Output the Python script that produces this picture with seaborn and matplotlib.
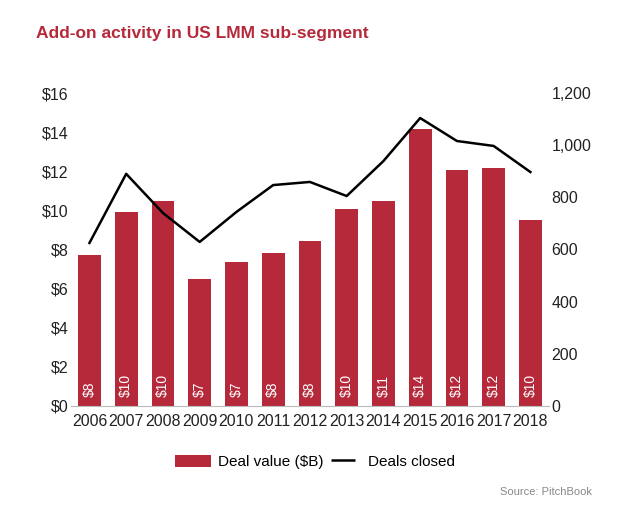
import pandas as pd
import seaborn as sns
import matplotlib.pyplot as plt
from matplotlib.patches import Patch
from matplotlib.lines import Line2D

years = ['2006', '2007', '2008', '2009', '2010', '2011', '2012',
         '2013', '2014', '2015', '2016', '2017', '2018']
deal_value = [7.7, 9.9, 10.5, 6.5, 7.35, 7.8, 8.45, 10.05, 10.5, 14.15, 12.05, 12.15, 9.5]
bar_labels = ['$8', '$10', '$10', '$7', '$7', '$8', '$8', '$10', '$11', '$14', '$12', '$12', '$10']
deals_closed = [625, 890, 740, 629, 744, 847, 859, 805, 939, 1104, 1016, 997, 897]

df = pd.DataFrame({'year': years, 'value': deal_value, 'deals': deals_closed})

red = '#B5293A'
plt.rcParams['font.family'] = ['Liberation Sans', 'DejaVu Sans']

fig = plt.figure(figsize=(6.18, 5.11), dpi=100)
ax = fig.add_axes([0.115, 0.2055, 0.773, 0.6125])

sns.barplot(x='year', y='value', data=df, color=red, width=0.62, saturation=1, ax=ax)
ax.set_ylim(0, 16)
ax.set_yticks(range(0, 17, 2))
ax.set_yticklabels(['$%d' % v for v in range(0, 17, 2)])
ax.set_xlabel('')
ax.set_ylabel('')
for s in ['top', 'right', 'left']:
    ax.spines[s].set_visible(False)
ax.spines['bottom'].set_color('#BBBBBB')
ax.tick_params(axis='y', length=0, labelsize=11.5, colors='#222222', pad=2)
ax.tick_params(axis='x', length=0, labelsize=11.5, colors='#222222', pad=6)

for i, lab in enumerate(bar_labels):
    ax.text(i, 0.45, lab, rotation=90, color='white', ha='center', va='bottom', fontsize=10)

ax2 = ax.twinx()
sns.lineplot(x=list(range(len(years))), y=deals_closed, color='black', linewidth=1.8, ax=ax2)
ax2.set_ylim(0, 1200)
ax2.set_yticks(range(0, 1201, 200))
ax2.set_yticklabels(['{:,}'.format(v) for v in range(0, 1201, 200)])
for s in ['top', 'right', 'left', 'bottom']:
    ax2.spines[s].set_visible(False)
ax2.tick_params(axis='y', length=0, labelsize=11.5, colors='#222222', pad=2)
ax.set_xlim(-0.5, len(years) - 0.5)

fig.text(0.058, 0.935, 'Add-on activity in US LMM sub-segment', color=red,
         fontsize=12.5, fontweight='bold', ha='left', va='center')

handles = [Patch(facecolor=red, edgecolor='none'),
           Line2D([0], [0], color='black', linestyle='none', marker='_',
                  markersize=17, markeredgewidth=1.8)]
fig.legend(handles, ['Deal value ($B)', 'Deals closed'], loc='center',
           bbox_to_anchor=(0.51, 0.096), ncol=2, frameon=False, fontsize=11,
           handlelength=2.35, handleheight=0.9, columnspacing=0.1, handletextpad=0.45)

fig.text(0.958, 0.037, 'Source: PitchBook', color='#888888', fontsize=8, ha='right', va='center')

fig.savefig('out.png', dpi=100)
